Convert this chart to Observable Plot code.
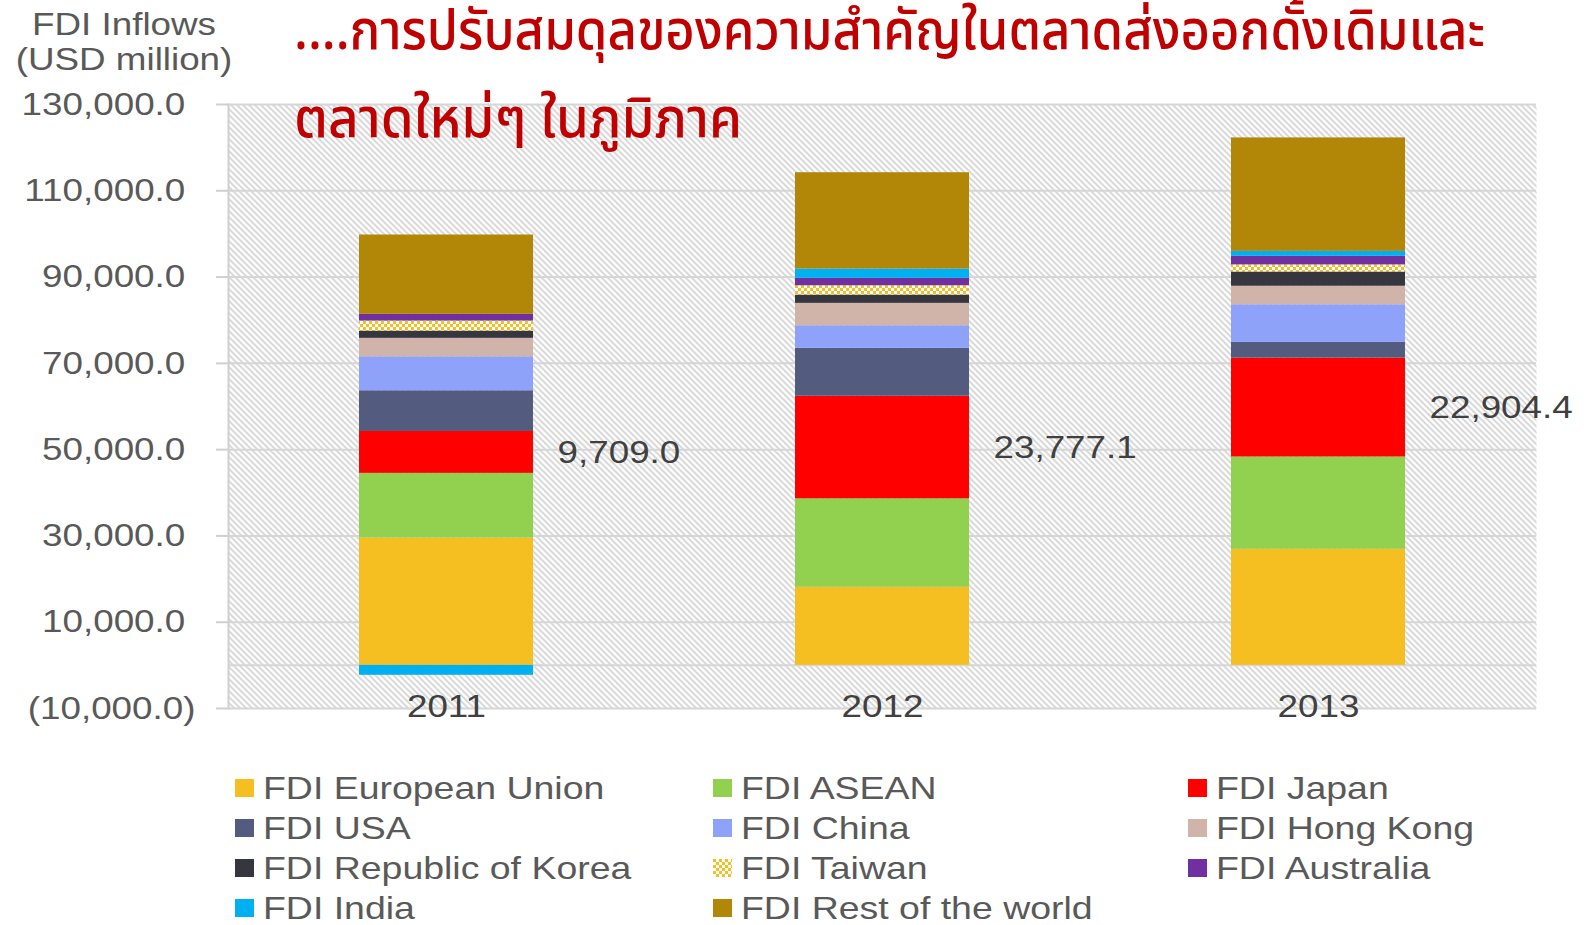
<!DOCTYPE html>
<html><head><meta charset="utf-8">
<script src="https://cdn.jsdelivr.net/npm/d3@7"></script>
<script src="https://cdn.jsdelivr.net/npm/@observablehq/plot@0.6"></script>
<style>
html,body{margin:0;padding:0;background:#fff;}
body{width:1589px;height:925px;position:relative;overflow:hidden;font-family:"Liberation Sans",Arial,sans-serif;}
#chart svg{display:block;}
#legend{position:absolute;left:235px;top:768px;display:grid;grid-template-columns:478px 475px 380px;}
.item{height:40px;display:flex;align-items:center;white-space:nowrap;}
.sw{width:19px;height:18px;flex:none;}
.lt{display:inline-block;margin-left:9px;font-size:32px;line-height:40px;color:#595959;transform:scaleX(1.17);transform-origin:0 50%;}
</style></head>
<body>
<svg width="0" height="0" style="position:absolute">
  <defs>
    <pattern id="hatch" width="6" height="6" patternUnits="userSpaceOnUse">
      <rect width="6" height="6" fill="#ffffff"/>
      <path d="M-1,-1 L7,7 M-4,2 L1,7 M2,-4 L7,1" stroke="#c4c4c4" stroke-width="1.3"/>
    </pattern>
    <pattern id="twPattern" width="6" height="6" patternUnits="userSpaceOnUse">
      <rect width="6" height="6" fill="#ffffff"/>
      <rect x="0" y="0" width="3" height="3" fill="#F5BF21"/>
      <rect x="3" y="3" width="3" height="3" fill="#F5BF21"/>
    </pattern>
  </defs>
</svg>
<div id="chart"></div>
<div id="legend"></div>
<script>
const years = ["2011", "2012", "2013"];
const seriesNames = ["FDI European Union", "FDI ASEAN", "FDI Japan", "FDI USA", "FDI China", "FDI Hong Kong", "FDI Republic of Korea", "FDI Taiwan", "FDI Australia", "FDI India", "FDI Rest of the world"];
const seriesColors = ["#F5BF21", "#92D050", "#FF0000", "#535C7E", "#8EA2FA", "#D0B3A9", "#36363E", "url(#twPattern)", "#7030A0", "#00B0F0", "#B28606"];

const fdiEU        = [29500, 18100, 26900];
const fdiASEAN     = [15000, 20500, 21400];
const fdiJapan     = [9709.0, 23777.1, 22904.4];
const fdiUSA       = [9440, 11100, 3650];
const fdiChina     = [7880, 5240, 8730];
const fdiHongKong  = [4270, 5190, 4290];
const fdiKorea     = [1690, 1930, 3300];
const fdiTaiwan    = [2320, 2150, 1650];
const fdiAustralia = [1550, 1720, 1980];
const fdiIndia     = [-2300, 2160, 1150];
const fdiRest      = [18390, 22320, 26300];

const yTicks = [-10000, 10000, 30000, 50000, 70000, 90000, 110000, 130000];
const axisTitle = ["FDI Inflows", "(USD million)"];
const titleLines = ["....การปรับสมดุลของความสำคัญในตลาดส่งออกดั้งเดิมและ", "ตลาดใหม่ๆ ในภูมิภาค"];

const seriesValues = [fdiEU, fdiASEAN, fdiJapan, fdiUSA, fdiChina, fdiHongKong, fdiKorea, fdiTaiwan, fdiAustralia, fdiIndia, fdiRest];
const rows = seriesNames.flatMap((s, si) => years.map((yr, i) => ({series: s, year: yr, value: seriesValues[si][i]})));
const f1 = d3.format(",.1f");
const labelRows = years.map((yr, i) => ({year: yr, mid: fdiEU[i] + fdiASEAN[i] + fdiJapan[i] / 2, label: f1(fdiJapan[i])}));
const tickFmt = v => v < 0 ? `(${f1(-v)})` : f1(v) + "\u00A0";

const chart = Plot.plot({
  width: 1589, height: 760,
  marginLeft: 228, marginRight: 53, marginTop: 104, marginBottom: 52,
  style: {fontFamily: "'Liberation Sans', Arial, sans-serif", fontSize: "32px", background: "white", overflow: "visible"},
  x: {domain: years, paddingInner: 0.6, paddingOuter: 0.3, axis: null},
  y: {domain: [-10000, 130000], axis: null},
  color: {type: "ordinal", domain: seriesNames, range: seriesColors},
  marks: [
    Plot.frame({fill: "url(#hatch)", stroke: "none"}),
    Plot.gridY(yTicks, {stroke: "#d6d6d6", strokeOpacity: 1, strokeWidth: 2}),
    Plot.ruleY([0], {stroke: "#d6d6d6", strokeWidth: 2}),
    Plot.frame({anchor: "left", stroke: "#d0d0d0", strokeWidth: 2}),
    Plot.axisY(yTicks, {tickSize: 12, tickPadding: 21, tickFormat: tickFmt, fontSize: 32, fill: "#595959", stroke: "#d0d0d0", strokeWidth: 2, label: null}),
    Plot.barY(rows, {x: "year", y: "value", fill: "series"}),
    Plot.text(years, {x: d => d, frameAnchor: "bottom", lineAnchor: "middle", dy: -2, fontSize: 32, fill: "#404040"}),
    Plot.text(labelRows, {x: "year", y: "mid", text: "label", textAnchor: "start", dx: 111, fontSize: 32, fill: "#404040"})
  ]
});
document.getElementById("chart").append(chart);

const svg = d3.select(chart);
axisTitle.forEach((t, i) => {
  svg.append("text").attr("x", 124).attr("y", 35 + i * 35).attr("text-anchor", "middle")
    .attr("fill", "#595959").attr("font-size", 32).text(t);
});
// stretch all Latin texts horizontally
chart.querySelectorAll("text").forEach(t => {
  const L = t.getComputedTextLength();
  if (L > 0) { t.setAttribute("textLength", (L * 1.15).toFixed(1)); t.setAttribute("lengthAdjust", "spacingAndGlyphs"); }
});
const titleWidths = [1191, 448];
titleLines.forEach((t, i) => {
  svg.append("text").attr("x", 294).attr("y", 49 + i * 88).attr("text-anchor", "start")
    .attr("fill", "#C00000").attr("font-size", 56).attr("font-weight", 500)
    .attr("font-family", "'Noto Sans Thai', 'Noto Sans Thai UI', Loma, Garuda, 'Tlwg Typo', Sarabun, 'Noto Sans', sans-serif")
    .attr("textLength", titleWidths[i]).attr("lengthAdjust", "spacingAndGlyphs")
    .text(t);
});

const legend = d3.select("#legend");
seriesNames.forEach((s, i) => {
  const item = legend.append("div").attr("class", "item");
  item.append("svg").attr("class", "sw").attr("width", 19).attr("height", 18)
    .append("rect").attr("width", 19).attr("height", 18).attr("fill", seriesColors[i]);
  item.append("span").attr("class", "lt").text(s);
});
</script>
</body></html>
